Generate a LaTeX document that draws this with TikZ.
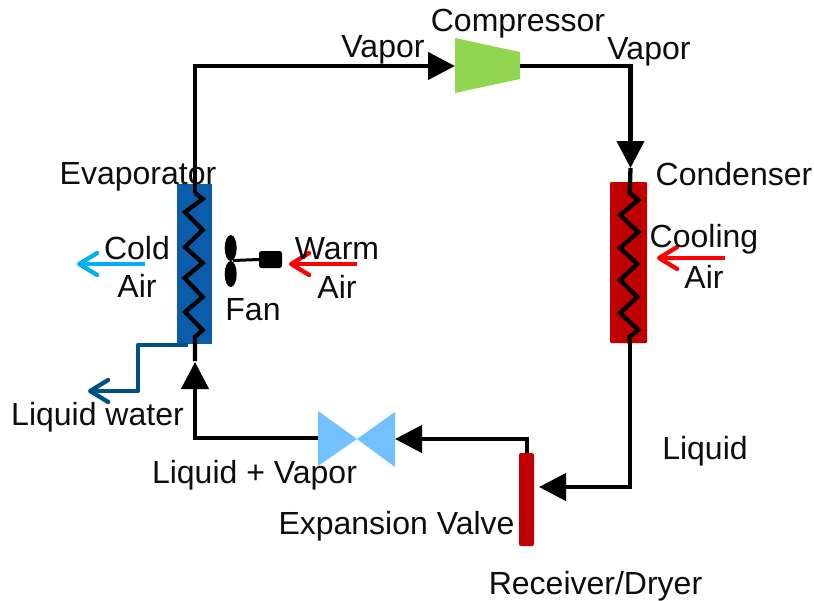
\documentclass[tikz,border=0pt]{standalone}
\usepackage{fontspec}
\setmainfont{Liberation Sans}
\usetikzlibrary{arrows.meta,shapes.geometric}
\definecolor{evapblue}{HTML}{0B5CAB}
\definecolor{condred}{HTML}{C00000}
\definecolor{compgreen}{HTML}{92D550}
\definecolor{valveblue}{HTML}{72C0FF}
\definecolor{coldblue}{HTML}{00B0F0}
\definecolor{waterblue}{HTML}{004F85}
\tikzset{
  lbl/.style={font=\fontsize{32}{34}\selectfont, inner sep=0pt, text=black!95, yshift=-1.5pt},
  pipe/.style={draw=black, line width=4.3pt, line join=miter},
  flow/.style={pipe, -{Triangle[length=27pt,width=27pt]}},
  airflow/.style={line width=4.3pt, line join=round, -{Straight Barb[length=18pt,width=22pt,line width=4.3pt,round]}},
  hx/.style={minimum width=35pt, minimum height=160pt, inner sep=0pt, outer sep=0pt},
  blade/.style={fill=black, ellipse, minimum width=12pt, minimum height=26pt, inner sep=0pt},
}
\begin{document}
\begin{tikzpicture}[x=1pt,y=-1pt]
\useasboundingbox (0,0) rectangle (814,600);
% equipment
\node[hx, fill=evapblue] (evap) at (194.5,264) {};
\node[hx, fill=condred, minimum width=37pt, minimum height=161pt, rounded corners=1pt] (cond) at (628.5,262.5) {};
\node[fill=condred, minimum width=15pt, minimum height=93pt, inner sep=0pt, outer sep=0pt, rounded corners=2pt] (recv) at (526.5,499.5) {};
\fill[compgreen] (455,38) -- (520,52) -- (520,79) -- (455,93) -- cycle;
\coordinate (compin) at (455,66);
\coordinate (compout) at (520,66);
\fill[valveblue] (318,411) -- (357,439) -- (318,466) -- cycle;
\fill[valveblue] (395,412) -- (357,439) -- (395,467) -- cycle;
\coordinate (valvein) at (395,439);
\coordinate (valveout) at (318,438);
% refrigerant loop
\coordinate (evaptop) at (195,193);
\coordinate (evapbot) at (195,361);
\coordinate (evapin) at (195,362);
\coordinate (condtop) at (630.5,168);
\coordinate (coilin) at (629.7,193);
\coordinate (condbot) at (630,345);
\coordinate (recvin) at (539,487);
\coordinate (recvout) at (527,453);
\draw[flow] (evaptop) -- (195,66) -- (compin);
\draw[flow] (compout) -- (630.5,66) -- (condtop);
\draw[pipe] (condtop) -- (coilin) -- (638.3,200) -- (620,215) -- (638.3,232) -- (620,248) -- (637.3,264) -- (620,280) -- (637.3,297) -- (620,313) -- (638.3,330) -- (629.3,337) -- (condbot);
\draw[flow] (condbot) -- (630,487) -- (recvin);
\draw[flow] (recvout) -- (527,439) -- (valvein);
\draw[flow] (valveout) -- (195,438) -- (evapin);
\draw[pipe] (evapbot) -- (195,337) -- (202.7,330) -- (185,312) -- (202.7,297) -- (184.5,278) -- (202.7,263) -- (185,247) -- (202.7,230) -- (185,212) -- (202.7,199) -- (evaptop);
% fan
\node[blade] (blade1) at (230.7,248) {};
\node[blade] (blade2) at (230.7,274) {};
\node[fill=black, minimum width=23pt, minimum height=17pt, inner sep=0pt, outer sep=0pt, rounded corners=2.5pt] (motor) at (270.5,259.5) {};
\coordinate (hub) at (233,260.5);
\draw[black, line width=3pt] (hub) -- (motor.west);
% air and water
\coordinate (warmstart) at (357,264); \coordinate (warmend) at (289,264);
\coordinate (coldstart) at (145,264); \coordinate (coldend) at (77,264);
\coordinate (coolstart) at (725,258); \coordinate (coolend) at (657,258);
\coordinate (waterstart) at (188,345); \coordinate (waterend) at (88,391);
\draw[airflow, red] (warmstart) -- (warmend);
\draw[airflow, coldblue] (coldstart) -- (coldend);
\draw[airflow, red] (coolstart) -- (coolend);
\draw[airflow, waterblue] (waterstart) -- (138,345) -- (138,391) -- (waterend);
% labels
\node[lbl] (l1) at (383,48) {Vapor};
\node[lbl] (l2) at (518,22) {Compressor};
\node[lbl] (l3) at (649,50) {Vapor};
\node[lbl] (l4) at (138,175) {Evaporator};
\node[lbl] (l5) at (734,173) {Condenser};
\node[lbl] (l6) at (137,247) {Cold};
\node[lbl] (l7) at (137,284) {Air};
\node[lbl] (l8) at (337,247) {Warm};
\node[lbl] (l9) at (337,285) {Air};
\node[lbl] (l10) at (704,238) {Cooling};
\node[lbl] (l11) at (704,275) {Air};
\node[lbl] (l12) at (253,308) {Fan};
\node[lbl] (l13) at (97.5,416) {Liquid water};
\node[lbl] (l14) at (705,450) {Liquid};
\node[lbl] (l15) at (254.5,474) {Liquid + Vapor};
\node[lbl] (l16) at (396.5,525) {Expansion Valve};
\node[lbl] (l17) at (595.5,585) {Receiver/Dryer};
\end{tikzpicture}
\end{document}
